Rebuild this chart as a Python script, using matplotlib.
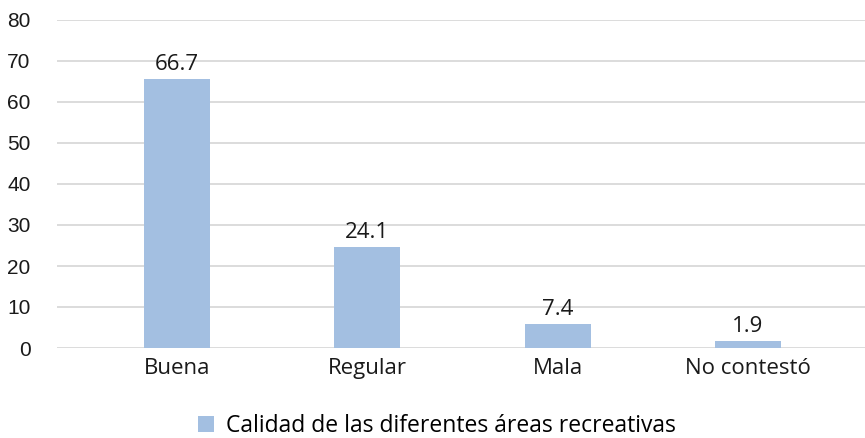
import matplotlib.pyplot as plt
from matplotlib.patches import Patch

categories = ['Buena', 'Regular', 'Mala', 'No contestó']
bar_heights = [65.7, 24.7, 5.8, 1.8]
value_labels = ['66.7', '24.1', '7.4', '1.9']
series_name = 'Calidad de las diferentes áreas recreativas'
y_ticks = [0, 10, 20, 30, 40, 50, 60, 70, 80]

bar_color = '#a3bfe1'
grid_color = '#d9d9d9'

plt.rcParams['font.family'] = ['Open Sans', 'DejaVu Sans']

fig = plt.figure(figsize=(8.65, 4.38), dpi=100)
ax = fig.add_axes([57 / 865, 1 - 348 / 438, 1 - 57 / 865, (348 - 20) / 438])

x = list(range(len(categories)))
bars = ax.bar(x, bar_heights, width=0.347, color=bar_color, zorder=3)

for rect, txt in zip(bars, value_labels):
    ax.text(rect.get_x() + rect.get_width() / 2, rect.get_height() + 1.0, txt,
            ha='center', va='bottom', fontsize=16, color='#1a1a1a')

ax.set_xlim(-0.63, 3.615)
ax.set_ylim(0, 80)
ax.set_yticks(y_ticks)
ax.set_yticklabels([str(t) for t in y_ticks], family='Liberation Sans', fontsize=15)
ax.set_xticks(x)
ax.set_xticklabels(categories, fontsize=16)
ax.tick_params(axis='both', length=0, colors='#1a1a1a')
ax.tick_params(axis='y', pad=19)
ax.tick_params(axis='x', pad=7)

ax.grid(axis='y', color=grid_color, linewidth=1.3, zorder=0)
for s in ax.spines.values():
    s.set_visible(False)

handle = Patch(facecolor=bar_color, edgecolor='none')
fig.legend([handle], [series_name], loc='center', bbox_to_anchor=(0.505, 1 - 426 / 438),
           frameon=False, fontsize=16.5, handlelength=0.7, handleheight=0.7,
           handletextpad=0.5)

fig.savefig('out.png', dpi=100)
